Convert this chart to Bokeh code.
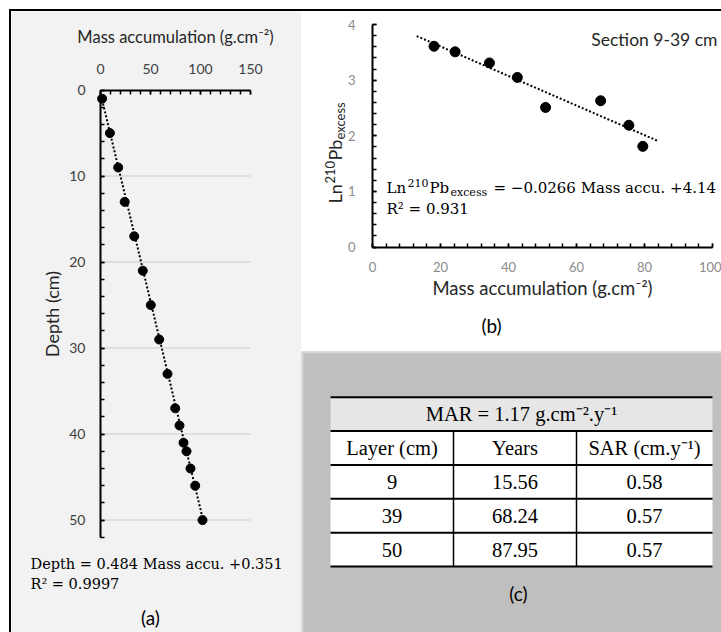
from bokeh.plotting import figure
from bokeh.models import FixedTicker, Label, Range1d
from bokeh.layouts import row, column
from bokeh.embed import file_html
from bokeh.resources import INLINE
from bokeh.core.properties import value
import math

# ---------------- data ----------------
# Panel (a): depth vs mass accumulation
depth_cm = [1, 5, 9, 13, 17, 21, 25, 29, 33, 37, 39, 41, 42, 44, 46, 50]
mass_a = [1.6, 9.4, 17.7, 24.2, 33.7, 42.3, 50.3, 58.7, 67.0, 74.7, 79.0, 83.0, 86.0, 90.0, 94.7, 102.0]
fit_a_slope, fit_a_intercept, r2_a = 0.484, 0.351, 0.9997
a_xticks = [0, 50, 100, 150]
a_yticks = [0, 10, 20, 30, 40, 50]

# Panel (b): Ln 210Pb excess vs mass accumulation (section 9-39 cm)
mass_b = [18.1, 24.3, 34.4, 42.6, 50.9, 67.1, 75.4, 79.5]
ln_pb = [3.61, 3.51, 3.31, 3.05, 2.51, 2.63, 2.19, 1.81]
fit_b_slope, fit_b_intercept, r2_b = -0.0266, 4.14, 0.931
trend_b_span = [13, 84]
b_xticks = [0, 20, 40, 60, 80, 100]
b_yticks = [0, 1, 2, 3, 4]

# Panel (c): table
mar_value = 1.17
col_headers = ["Layer (cm)", "Years", "SAR (cm.y⁻¹)"]
layers = ["9", "39", "50"]
years = ["15.56", "68.24", "87.95"]
sar = ["0.58", "0.57", "0.57"]

SANS = "Lato"
EQ = "DejaVu Serif"
TNR = "Liberation Serif"

# page origin of each canvas
A_LEFT, A_TOP, A_W, A_H = 11, 11, 290, 621
B_LEFT, B_TOP, B_W, B_H = 301, 11, 420, 340
C_LEFT, C_TOP, C_W, C_H = 301, 351, 420, 281

# panel (a) scale: page px of value 0 and px per unit
AX0, AXS, AY0, AYS = 100.0, 1.0, 89.6, 8.6
# panel (b)
BX0, BXS, BY0, BYS = 372.0, 3.4, 246.5, 55.6
# panel (c) (table units: x in px, y in rows)
CX0, CXS, CY0, CYS = 330.0, 1.0, 396.7, 33.86


def ax(px): return (px - AX0) / AXS
def ay(py): return (py - AY0) / AYS
def bx(px): return (px - BX0) / BXS
def by(py): return (BY0 - py) / BYS
def cx(px): return (px - CX0) / CXS
def cy(py): return (py - CY0) / CYS


def style_axis(axis, label_color, tick_color, tick_size, label_size):
    axis.axis_line_color = "black"
    axis.axis_line_width = 2
    axis.major_tick_line_color = "black"
    axis.minor_tick_line_color = "black"
    axis.major_tick_line_width = 1.5
    axis.minor_tick_line_width = 1.5
    axis.major_tick_in = 4
    axis.major_tick_out = 0
    axis.minor_tick_in = 4
    axis.minor_tick_out = 0
    axis.major_label_text_font = SANS
    axis.major_label_text_font_size = tick_size
    axis.major_label_text_color = tick_color
    axis.axis_label_text_font = SANS
    axis.axis_label_text_font_size = label_size
    axis.axis_label_text_font_style = "normal"
    axis.axis_label_text_color = label_color


# ---------------- panel (a) ----------------
pa = figure(width=A_W, height=A_H,
            x_range=Range1d(ax(A_LEFT), ax(A_LEFT + A_W)),
            y_range=Range1d(ay(A_TOP + A_H), ay(A_TOP)),
            x_axis_location="above", output_backend="svg", toolbar_location=None,
            min_border=0, background_fill_color="#f2f2f2", border_fill_color="#f2f2f2",
            outline_line_color=None)
pa.xaxis.ticker = FixedTicker(ticks=a_xticks, minor_ticks=list(range(0, 151, 10)))
pa.yaxis.ticker = FixedTicker(ticks=a_yticks, minor_ticks=list(range(0, 53, 2)))
pa.xaxis.fixed_location = 0
pa.xaxis.bounds = (0, 150)
pa.yaxis.fixed_location = 0
pa.yaxis.bounds = (0, 52)
style_axis(pa.xaxis[0], "#262626", "#404040", "14px", "16.5px")
style_axis(pa.yaxis[0], "#262626", "#404040", "14px", "18px")
pa.xaxis.axis_label = "Mass accumulation (g.cm⁻²)"
pa.xaxis.major_label_standoff = 16
pa.xaxis.axis_label_standoff = 15
pa.yaxis.axis_label = "Depth (cm)"
pa.yaxis.major_label_standoff = 15
pa.yaxis.axis_label_standoff = 3
pa.grid.visible = False

# horizontal gridlines at the labelled depths (not at the axis itself)
grid_y = [t for t in a_yticks if t > 0]
pa.segment(x0=[0] * len(grid_y), x1=[150] * len(grid_y), y0=grid_y, y1=grid_y,
           line_color="#d9d9d9", line_width=1.5, level="underlay")

fa_x = [min(mass_a), max(mass_a)]
fa_y = [fit_a_slope * v + fit_a_intercept for v in fa_x]
pa.line(fa_x, fa_y, line_color="black", line_width=2, line_dash="2 2")
pa.scatter(mass_a, depth_cm, size=9, fill_color="black", line_color="black")

pa.add_layout(Label(x=ax(30), y=ay(563), text=f"Depth = {fit_a_slope} Mass accu. +{fit_a_intercept}",
                    text_font=EQ, text_font_size="14.5px", text_baseline="middle", text_color="black"))
pa.add_layout(Label(x=ax(30), y=ay(583), text=f"R² = {r2_a}",
                    text_font=EQ, text_font_size="14.5px", text_baseline="middle", text_color="black"))
pa.add_layout(Label(x=ax(150), y=ay(617), text="(a)", text_font=SANS, text_font_size="19px",
                    text_align="center", text_baseline="middle", text_color="black"))

# ---------------- panel (b) ----------------
pb = figure(width=B_W, height=B_H,
            x_range=Range1d(bx(B_LEFT), bx(B_LEFT + B_W)),
            y_range=Range1d(by(B_TOP + B_H), by(B_TOP)),
            output_backend="svg", toolbar_location=None, min_border=0,
            background_fill_color="white", border_fill_color="white", outline_line_color=None)
pb.xaxis.ticker = FixedTicker(ticks=b_xticks, minor_ticks=list(range(0, 101, 4)))
pb.yaxis.ticker = FixedTicker(ticks=b_yticks, minor_ticks=[i * 0.2 for i in range(21)])
pb.xaxis.fixed_location = 0
pb.xaxis.bounds = (0, 100)
pb.yaxis.fixed_location = 0
pb.yaxis.bounds = (0, 4)
style_axis(pb.xaxis[0], "#262626", "#8c8c8c", "13px", "18.5px")
style_axis(pb.yaxis[0], "#262626", "#8c8c8c", "13px", "18px")
pb.xaxis.major_label_standoff = 15
pb.yaxis.major_label_standoff = 17
pb.xaxis.axis_label = "Mass accumulation (g.cm⁻²)"
pb.xaxis.axis_label_standoff = 1
pb.grid.visible = False

fb_y = [fit_b_slope * v + fit_b_intercept for v in trend_b_span]
pb.line(trend_b_span, fb_y, line_color="black", line_width=2, line_dash="2 2")
pb.scatter(mass_b, ln_pb, size=10, fill_color="black", line_color="black")

pb.add_layout(Label(x=bx(717), y=by(39), text="Section 9-39 cm", text_font=SANS,
                    text_font_size="17.5px", text_align="right", text_baseline="middle",
                    text_color="#262626"))
# regression equation (with superscript / subscript pieces)
eq_pieces = [("Ln", 386, 187, "15px"), ("210", 407, 182, "11px"), ("Pb", 429, 187, "15px"),
             ("excess", 450, 192, "11px"),
             (f"= −{abs(fit_b_slope)} Mass accu. +{fit_b_intercept}", 493, 187, "15px")]
for t, px, py, fs in eq_pieces:
    pb.add_layout(Label(x=bx(px), y=by(py), text=t, text_font=EQ, text_font_size=fs,
                        text_baseline="middle", text_color="black"))
pb.add_layout(Label(x=bx(386), y=by(208), text=f"R² = {r2_b}", text_font=EQ, text_font_size="15px",
                    text_baseline="middle", text_color="black"))
# rotated y-axis title
ylab_pieces = [("Ln", 334, 203, "18px"), ("210", 329, 183, "13px"), ("Pb", 334, 160, "18px"),
               ("excess", 339, 139, "13px")]
for t, px, py, fs in ylab_pieces:
    pb.add_layout(Label(x=bx(px), y=by(py), text=t, text_font=SANS, text_font_size=fs,
                        angle=math.pi / 2, text_baseline="middle", text_color="#262626"))
pb.add_layout(Label(x=bx(491), y=by(325), text="(b)", text_font=SANS, text_font_size="19px",
                    text_align="center", text_baseline="middle", text_color="black"))

# ---------------- panel (c) ----------------
col_edges = [0, 123, 246, 382]
pc = figure(width=C_W, height=C_H,
            x_range=Range1d(cx(C_LEFT), cx(C_LEFT + C_W)),
            y_range=Range1d(cy(C_TOP + C_H), cy(C_TOP)),
            output_backend="svg", toolbar_location=None,
            x_axis_location=None, y_axis_location=None, min_border=0,
            background_fill_color="#bfbfbf", border_fill_color="#bfbfbf", outline_line_color=None)
pc.grid.visible = False

# faint lighter edge of the grey panel
pc.segment(x0=[cx(C_LEFT), cx(C_LEFT + 1)], x1=[cx(C_LEFT + C_W), cx(C_LEFT + 1)],
           y0=[cy(C_TOP + 1), cy(C_TOP)], y1=[cy(C_TOP + 1), cy(C_TOP + C_H)],
           line_color="#d6d6d6", line_width=2)

n_rows = 2 + len(layers)
pc.quad(left=[col_edges[0]], right=[col_edges[-1]], top=[0], bottom=[1],
        fill_color="#e7e6e6", line_color=None)
pc.quad(left=[col_edges[0]], right=[col_edges[-1]], top=[1], bottom=[n_rows],
        fill_color="white", line_color=None)
pc.segment(x0=[col_edges[0]] * (n_rows + 1), x1=[col_edges[-1]] * (n_rows + 1),
           y0=list(range(n_rows + 1)), y1=list(range(n_rows + 1)),
           line_color="black", line_width=2)
pc.segment(x0=col_edges[1:-1], x1=col_edges[1:-1], y0=[1, 1], y1=[n_rows, n_rows],
           line_color="black", line_width=1.5)

centers = [(col_edges[i] + col_edges[i + 1]) / 2 for i in range(3)]
cell_x, cell_y, cell_t = [], [], []
for j, h in enumerate(col_headers):
    cell_x.append(centers[j]); cell_y.append(1.5); cell_t.append(h)
for i in range(len(layers)):
    for j, v in enumerate([layers[i], years[i], sar[i]]):
        cell_x.append(centers[j]); cell_y.append(2.5 + i); cell_t.append(v)
cell_x.append(col_edges[-1] / 2); cell_y.append(0.5); cell_t.append(f"MAR = {mar_value} g.cm⁻².y⁻¹")
pc.text(x=cell_x, y=cell_y, text=cell_t, text_font=value(TNR), text_font_size="20.5px",
        text_align="center", text_baseline="middle", text_color="black")
pc.add_layout(Label(x=cx(518), y=cy(593), text="(c)", text_font=SANS, text_font_size="19px",
                    text_align="center", text_baseline="middle", text_color="black"))

layout = row(pa, column(pb, pc, spacing=0), spacing=0, margin=(9, 0, 0, 9),
             styles={"border-top": "2px solid black", "border-left": "2px solid black"})

open("out.html", "w").write(file_html(layout, INLINE))
